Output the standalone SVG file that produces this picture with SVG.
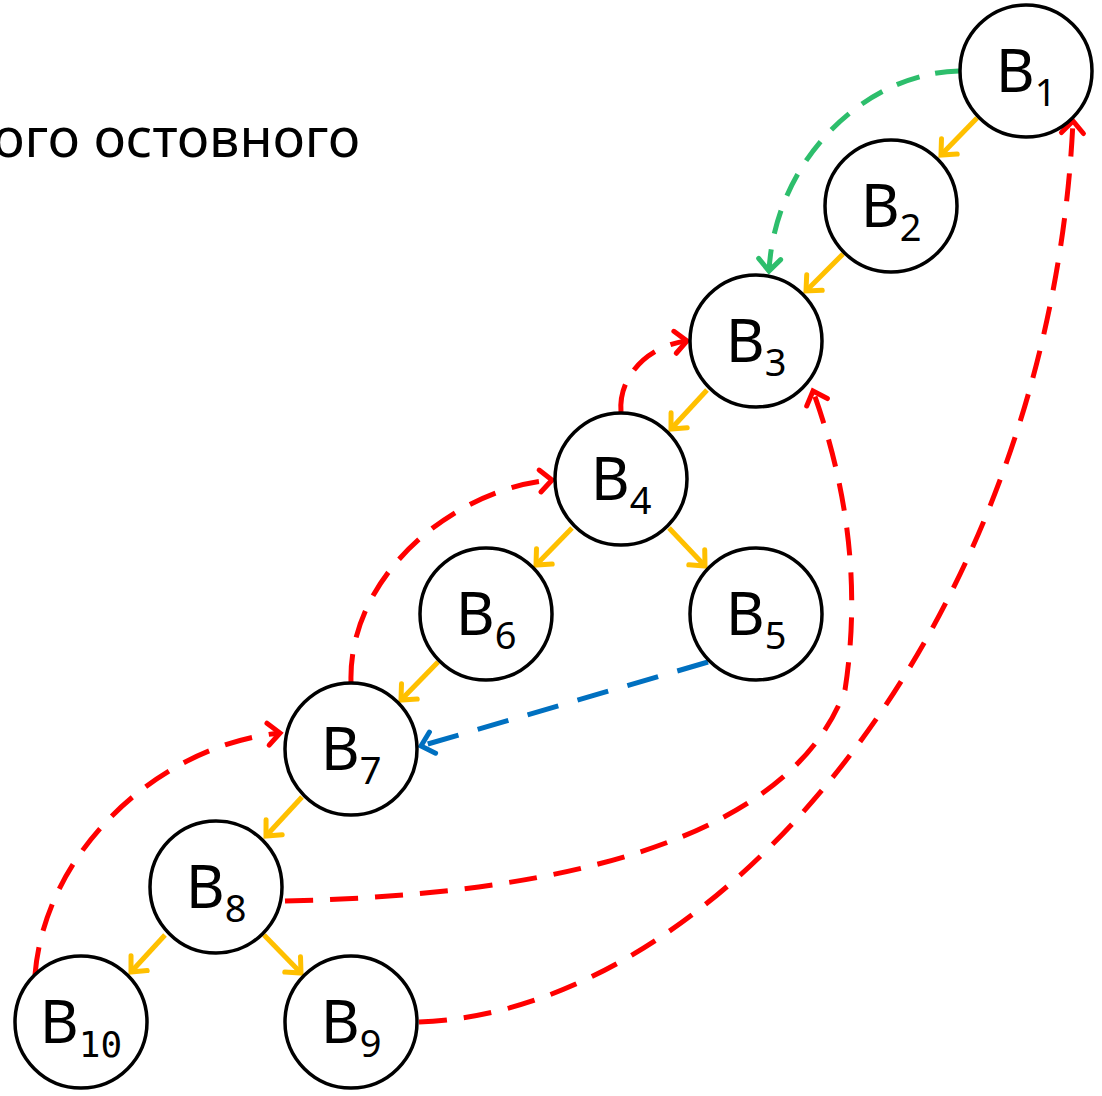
<svg xmlns="http://www.w3.org/2000/svg" width="1102" height="1096" viewBox="0 0 1102 1096">
<style>
.node circle{fill:#fff;stroke:#000;stroke-width:3.5}
.node text{font-family:"Noto Sans",sans-serif;font-size:60px;text-anchor:middle;fill:#000}
.sub{font-size:38px}
.mono{font-family:"DejaVu Sans Mono",monospace;font-size:36px}
.tree{fill:none;stroke:#FFC000;stroke-width:5;stroke-linecap:butt}
.back{fill:none;stroke:#FF0000;stroke-width:5;stroke-dasharray:28 17}
.fwd{fill:none;stroke:#2DBE6C;stroke-width:5;stroke-dasharray:24 16}
.cross{fill:none;stroke:#0070C0;stroke-width:5;stroke-dasharray:32 20}
.title{font-family:"Noto Sans",sans-serif;font-size:54px;fill:#000}
</style>
<defs>
<marker id="aY" markerUnits="userSpaceOnUse" markerWidth="30" markerHeight="30" refX="16" refY="10" orient="auto" overflow="visible"><path d="M4,-1 L16,10 L4,21" fill="none" stroke="#FFC000" stroke-width="5" stroke-linecap="round"/></marker>
<marker id="aR" markerUnits="userSpaceOnUse" markerWidth="30" markerHeight="30" refX="16" refY="10" orient="auto" overflow="visible"><path d="M4,-1 L16,10 L4,21" fill="none" stroke="#FF0000" stroke-width="5" stroke-linecap="round"/></marker>
<marker id="aG" markerUnits="userSpaceOnUse" markerWidth="30" markerHeight="30" refX="16" refY="10" orient="auto" overflow="visible"><path d="M4,-1 L16,10 L4,21" fill="none" stroke="#2DBE6C" stroke-width="5" stroke-linecap="round"/></marker>
<marker id="aB" markerUnits="userSpaceOnUse" markerWidth="30" markerHeight="30" refX="16" refY="10" orient="auto" overflow="visible"><path d="M4,-1 L16,10 L4,21" fill="none" stroke="#0070C0" stroke-width="5" stroke-linecap="round"/></marker>
</defs>
<rect width="1102" height="1096" fill="#fff"/>
<text class="title" x="360" y="157" text-anchor="end">ого остовного</text>
<g id="connectors">
<path class="tree" d="M977,118 L941,155" marker-end="url(#aY)"/>
<path class="tree" d="M843,254 L806,291" marker-end="url(#aY)"/>
<path class="tree" d="M707,390 L671,429" marker-end="url(#aY)"/>
<path class="tree" d="M572,528 L536,565" marker-end="url(#aY)"/>
<path class="tree" d="M669,528 L705,566" marker-end="url(#aY)"/>
<path class="tree" d="M438,662 L401,700" marker-end="url(#aY)"/>
<path class="tree" d="M302,797 L266,836" marker-end="url(#aY)"/>
<path class="tree" d="M165,935 L131,972" marker-end="url(#aY)"/>
<path class="tree" d="M264,935 L301,973" marker-end="url(#aY)"/>
<path class="fwd" d="M959,71 C865,73 775,160 769,271" marker-end="url(#aG)"/>
<path class="back" d="M621,412 C618,375 650,345 687,341" marker-end="url(#aR)"/>
<path class="back" d="M351,682 C348,575 455,488 552,480" marker-end="url(#aR)"/>
<path class="back" d="M35,975 C45,850 160,745 280,733" marker-end="url(#aR)"/>
<path class="back" d="M285,901 C560,895 790,840 845,690 C862,580 845,480 813,391" marker-end="url(#aR)"/>
<path class="back" d="M419,1022 C720,1012 1050,620 1073,121" marker-end="url(#aR)"/>
<path class="cross" d="M708,662 L421,746" marker-end="url(#aB)"/>
</g>
<g id="B1" class="node"><circle cx="1026" cy="71" r="66"/><text x="1026" y="92">B<tspan class="sub" dy="14">1</tspan></text></g>
<g id="B2" class="node"><circle cx="891" cy="206" r="66"/><text x="891" y="227">B<tspan class="sub" dy="14">2</tspan></text></g>
<g id="B3" class="node"><circle cx="756" cy="341" r="66"/><text x="756" y="362">B<tspan class="sub" dy="14">3</tspan></text></g>
<g id="B4" class="node"><circle cx="621" cy="479" r="66"/><text x="621" y="500">B<tspan class="sub" dy="14">4</tspan></text></g>
<g id="B5" class="node"><circle cx="756" cy="614" r="66"/><text x="756" y="635">B<tspan class="sub" dy="14">5</tspan></text></g>
<g id="B6" class="node"><circle cx="486" cy="614" r="66"/><text x="486" y="635">B<tspan class="sub" dy="14">6</tspan></text></g>
<g id="B7" class="node"><circle cx="351" cy="749" r="66"/><text x="351" y="770">B<tspan class="sub" dy="14">7</tspan></text></g>
<g id="B8" class="node"><circle cx="216" cy="887" r="66"/><text x="216" y="908">B<tspan class="sub" dy="14">8</tspan></text></g>
<g id="B9" class="node"><circle cx="351" cy="1022" r="66"/><text x="351" y="1043">B<tspan class="sub" dy="14">9</tspan></text></g>
<g id="B10" class="node"><circle cx="81" cy="1022" r="66"/><text x="81" y="1043">B<tspan class="mono" dy="14">10</tspan></text></g>
</svg>
